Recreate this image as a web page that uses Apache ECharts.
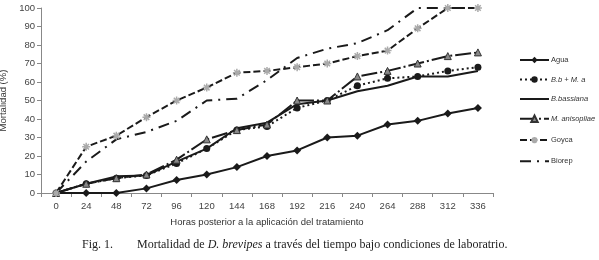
<!DOCTYPE html>
<html><head><meta charset="utf-8">
<script src="https://cdn.jsdelivr.net/npm/echarts@6/dist/echarts.min.js"></script>
<style>html,body{margin:0;padding:0;background:#fff}#c{width:599px;height:260px}</style>
</head><body><div id="c"></div>
<script>
const hours = ['0','24','48','72','96','120','144','168','192','216','240','264','288','312','336'];
const agua = [0,0,0,2.5,7,10,14,20,23,30,31,37,39,43,46];
const bbMa = [0,5,8,9.5,16,24,34,36,46,50,58,62,63,66,68];
const bBassiana = [0,5,9,9.5,17,24,35,38,48,50,55,58,63,63,66];
const mAnisopliae = [0,5,8,10,18,29,34,37,50,50,63,66,70,74,76];
const goyca = [0,25,31,41,50,57,65,66,68,70,74,77,89,100,100];
const biorep = [0,17,29,33,39,50,51,61,73,78,81,88,100,100,100];
const yTicks = [0,10,20,30,40,50,60,70,80,90,100];

const star = 'path://M5,0L5,10M0,5L10,5M1.5,1.5L8.5,8.5M8.5,1.5L1.5,8.5';
const chart = echarts.init(document.getElementById('c'));
const base = {type:'line', symbolSize:7};
chart.setOption({
  animation:false,
  grid:{left:41,right:106,top:8,bottom:67, containLabel:false, outerBoundsMode:'none'},
  legend:{
    orient:'vertical', left:514, top:51, itemGap:11.5, itemWidth:29, itemHeight:8,
    textStyle:{fontFamily:'Liberation Sans', fontSize:7.5, color:'#333', padding:[0,0,0,-3]},
    data:[
      {name:'Agua'},
      {name:'B.b + M. a', textStyle:{fontStyle:'italic'}},
      {name:'B.bassiana', textStyle:{fontStyle:'italic'}, itemStyle:{opacity:0}},
      {name:'M. anisopliae', textStyle:{fontStyle:'italic'}},
      {name:'Goyca'},
      {name:'Biorep', itemStyle:{opacity:0}}
    ]
  },
  xAxis:{
    type:'category', data:hours, boundaryGap:true,
    name:'Horas posterior a la aplicación del tratamiento', nameLocation:'middle', nameGap:24,
    nameTextStyle:{fontFamily:'Liberation Sans', fontSize:9.5, color:'#333'},
    axisLine:{lineStyle:{color:'#888', width:1}},
    axisTick:{show:true, alignWithLabel:false, length:4, lineStyle:{color:'#888'}},
    axisLabel:{fontFamily:'Liberation Sans', fontSize:9.5, color:'#444', margin:8}
  },
  yAxis:{
    type:'value', min:0, max:100, interval:10,
    name:'Mortalidad (%)', nameLocation:'middle', nameGap:26,
    nameTextStyle:{fontFamily:'Liberation Sans', fontSize:9.5, color:'#333'},
    axisLine:{show:true, lineStyle:{color:'#888'}},
    axisTick:{show:true, length:4, lineStyle:{color:'#888'}},
    splitLine:{show:false},
    axisLabel:{fontFamily:'Liberation Sans', fontSize:9.5, color:'#444', margin:6,
      formatter:v=>yTicks.includes(v)?String(v):''}
  },
  series:[
    {...base, name:'Agua', data:agua, symbol:'diamond', symbolSize:8,
      itemStyle:{color:'#1a1a1a'}, lineStyle:{color:'#1a1a1a', width:2}},
    {...base, name:'B.b + M. a', data:bbMa, symbol:'circle', symbolSize:7,
      itemStyle:{color:'#1a1a1a'}, lineStyle:{color:'#1a1a1a', width:2, type:[2,3]}},
    {...base, name:'B.bassiana', data:bBassiana, symbol:'none', showSymbol:false,
      itemStyle:{color:'#1a1a1a'}, lineStyle:{color:'#1a1a1a', width:2}},
    {...base, name:'M. anisopliae', data:mAnisopliae, symbol:'triangle', symbolSize:7,
      itemStyle:{color:'#888', borderColor:'#333', borderWidth:1}, lineStyle:{color:'#1a1a1a', width:2, type:[16,3,2,3]}},
    {...base, name:'Goyca', data:goyca, symbol:star, symbolSize:8,
      itemStyle:{color:'none', borderColor:'#aaa', borderWidth:1.5}, lineStyle:{color:'#1a1a1a', width:2, type:[7,3]}},
    {...base, name:'Biorep', data:biorep, symbol:'none', showSymbol:false,
      itemStyle:{color:'#1a1a1a'}, lineStyle:{color:'#1a1a1a', width:2, type:[11,6,2,6]}}
  ],
  graphic:[
    {type:'text', left:82, top:239, style:{text:'Fig. 1.', font:'12px "Liberation Serif"', fill:'#222'}},
    {type:'text', left:137, top:239, style:{
      text:'Mortalidad de {i|D. brevipes} a través del tiempo bajo condiciones de laboratrio.',
      font:'12px "Liberation Serif"', fill:'#222',
      rich:{i:{fontStyle:'italic', fontFamily:'Liberation Serif', fontSize:12, fill:'#222'}}}}
  ]
});
</script></body></html>
